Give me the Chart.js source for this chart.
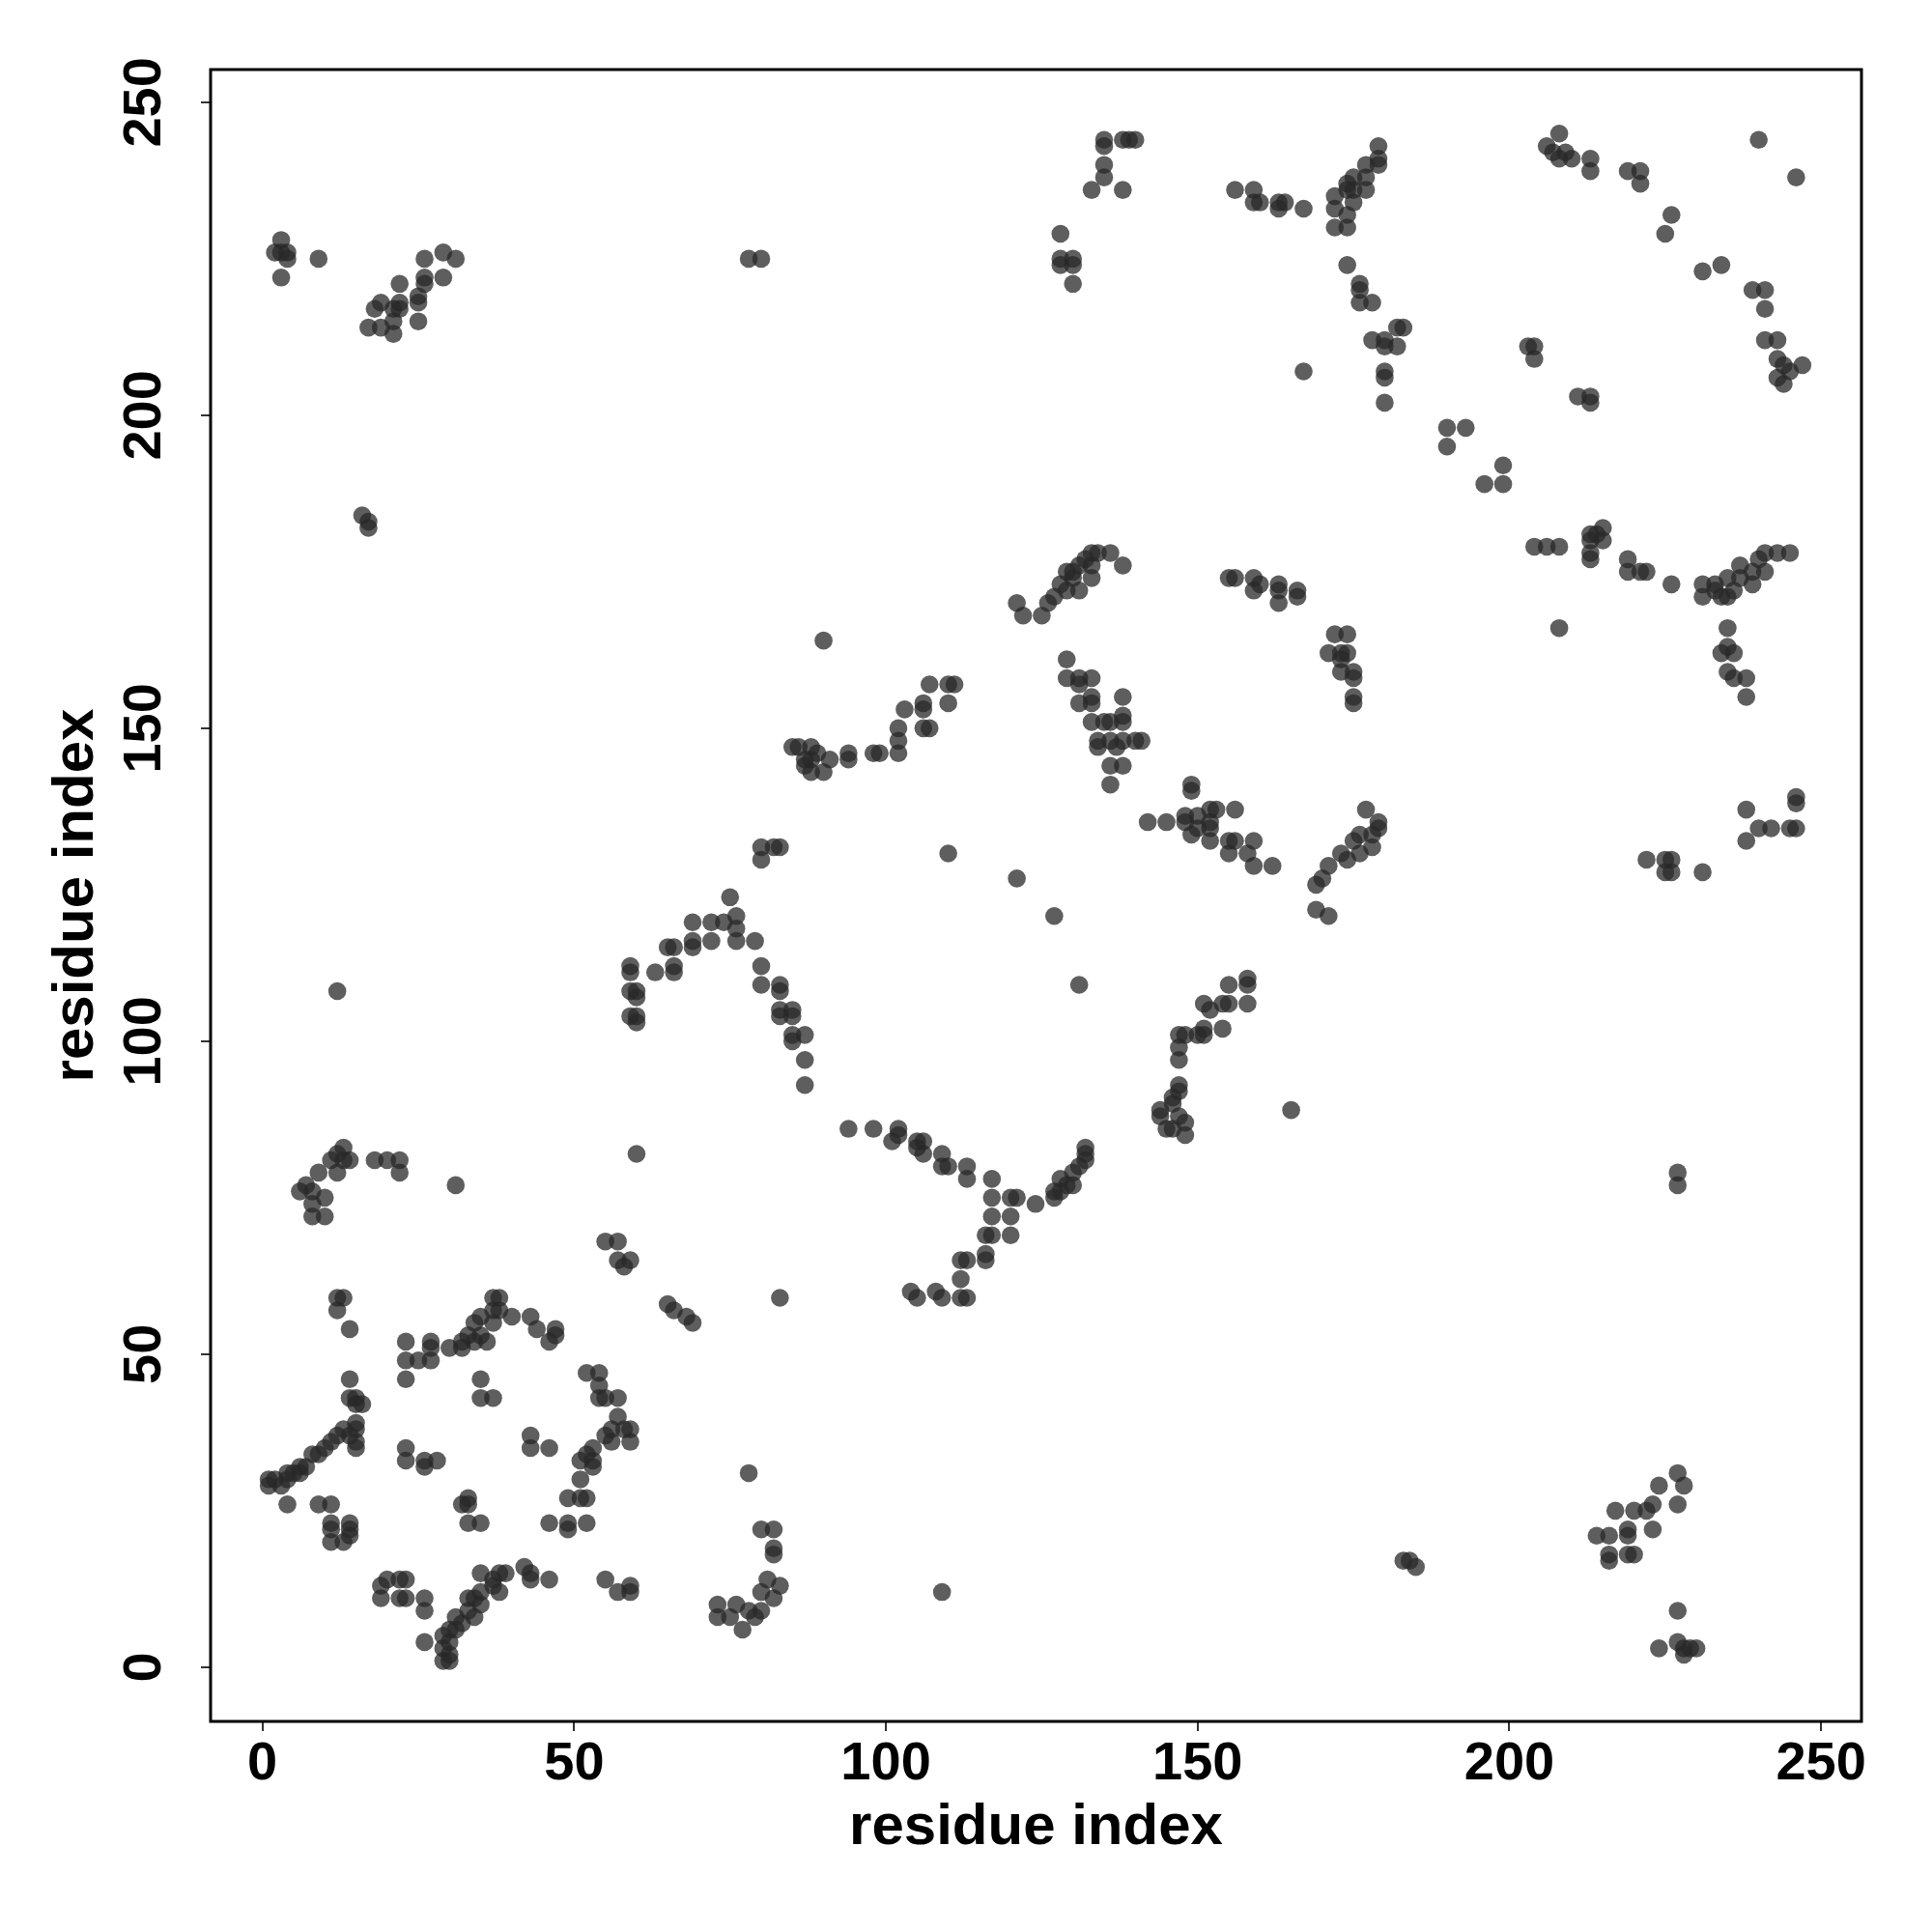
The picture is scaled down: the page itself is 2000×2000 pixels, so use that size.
<!DOCTYPE html>
<html>
<head>
<meta charset="utf-8">
<script src="https://cdn.jsdelivr.net/npm/chart.js@4.4.1/dist/chart.umd.min.js"></script>
<style>
  html, body { margin: 0; padding: 0; background: #fff; }
  #wrap { width: 2000px; height: 2000px; }
</style>
</head>
<body>
<div id="wrap"><canvas id="contactMap" width="2000" height="2000"></canvas></div>
<script>
// Contact map: residue i (x) vs residue j (y)
const resI = [
  3,2,3,4,4,9,3,
  26,29,31,26,26,29,22,25,25,22,19,18,21,22,25,17,19,21,21,78,80,
  135,135,138,139,140,135,135,133,138,128,128,128,130,130,130,
  156,159,159,160,163,163,164,167,167,
  179,179,179,177,177,177,175,175,175,174,174,172,172,172,174,174,174,176,176,176,178,
  182,183,178,180,182,180,180,180,180,
  208,206,207,209,208,210,213,213,219,221,221,226,225,240,246,231,234,
  239,241,241,241,243,243,244,247,243,244,245,204,204,203,211,213,213,190,193,190,199,196,199,
  16,17,17,
  121,122,125,126,127,128,129,129,130,131,132,133,133,133,134,136,138,131,130,
  155,156,159,160,163,163,163,166,166,159,90,
  107,110,111,110,103,106,106,106,107,102,102,102,98,99,94,94,91,85,86,88,89,87,88,90,87,88,
  129,129,131,131,133,131,133,133,138,133,135,136,138,138,134,136,138,141,137,134,140,136,138,136,
  149,149,142,145,148,148,149,150,150,152,153,152,152,152,156,155,155,156,159,158,159,162,
  110,121,80,82,83,80,
  204,206,208,213,213,213,213,215,215,214,219,219,221,222,226,
  231,231,233,234,235,235,236,237,237,239,240,241,241,243,245,239,233,
  208,235,235,234,236,235,238,236,238,
  172,174,171,173,174,173,173,175,175,175,175,
  177,179,179,178,175,176,173,171,170,169,178,176,174,169,171,
  222,225,226,225,226,231,238,240,242,245,246,246,246,238,
  75,69,72,74,76,76,65,66,69,69,72,76,79,
  59,59,63,66,66,59,60,60,59,60,60,12,60,
  13,12,14,11,13,9,12,7,6,8,10,8,8,10,18,20,22,22,31,
  55,57,57,59,58,12,13,12,37,38,65,66,68,69,
  127,131,80,80,83,83,83,85,83,85,85,87,85,87,87,
  94,98,102,101,102,105,106,105,106,109,110,109,113,113,117,117,117,120,121,120,120,124,
  127,127,128,129,130,130,131,132,132,132,128,
  116,117,116,116,112,113,112,104,105,108,109,112,113,83,
  155,158,158,158,151,152,154,155,151,154,147,148,150,151,
  147,147,147,147,146,146,144,144,145,147,148,148,146,165,227,227,
  14,23,23,25,23,27,27,27,
  30,32,33,34,35,37,32,34,35,37,38,40,36,43,44,47,46,47,
  14,14,15,16,15,15,15,14,15,15,13,12,11,10,9,8,7,6,5,4,3,1,1,2,4,6,
  4,9,11,11,11,14,14,11,13,14,23,23,26,28,26,
  35,35,37,43,43,46,33,32,33,33,35,
  52,54,54,54,55,57,57,58,59,59,56,55,53,52,51,51,53,53,56,
  49,51,52,46,49,49,52,78,
  19,20,22,23,19,22,23,26,26,26,
  35,37,38,39,35,37,38,34,35,33,33,34,31,32,30,31,29,30,29,30,29,30,
  42,43,43,46,55,57,59,59,
  73,73,75,76,77,78,79,81,83,80,82,80,
  80,82,82,82,109,
  183,184,185,
  227,228,224,227,223,222,220,217,223,219,219,216,214,216,216,219,220,227,224,227,228,228,230,229
];
const resJ = [
  228,226,226,226,225,225,222,
  225,226,225,222,221,222,221,219,218,218,218,217,217,217,215,214,214,215,213,225,225,
  244,243,244,244,244,240,238,236,236,229,225,224,225,224,221,
  236,236,234,234,234,233,234,233,207,
  243,241,240,240,238,236,238,236,234,237,236,235,233,230,232,230,224,221,220,218,218,
  214,214,212,212,211,211,207,206,202,
  245,243,242,242,241,241,241,239,239,239,237,232,229,244,238,223,224,
  220,220,217,212,212,209,208,208,206,205,207,211,209,211,203,203,202,198,198,195,192,189,189,
  184,183,182,
  170,168,168,170,171,173,172,175,174,172,177,176,174,178,178,178,176,176,175,
  174,174,174,173,173,172,170,172,171,172,164,
  157,157,157,154,153,154,153,150,150,150,148,146,146,146,146,145,145,147,147,147,146,144,143,143,145,145,
  161,158,158,157,158,154,155,154,155,151,151,151,152,151,148,148,148,148,147,147,148,144,144,141,
  141,140,135,135,136,135,133,136,134,137,137,135,134,132,137,132,130,132,132,130,128,128,
  130,126,131,131,131,129,
  179,179,179,181,180,178,177,182,180,181,177,175,175,175,173,
  173,171,173,171,174,171,172,176,174,173,177,175,178,178,178,175,172,
  166,166,163,162,162,159,158,158,155,
  165,165,162,162,162,161,159,159,158,155,154,
  137,135,134,131,132,130,130,128,126,125,133,133,129,121,120,
  129,129,129,127,127,127,137,134,134,134,134,139,138,132,
  123,119,119,119,120,118,115,115,116,115,116,116,116,
  112,111,111,112,111,108,108,107,104,104,103,108,82,
  83,82,81,81,81,79,79,77,76,76,75,74,72,72,81,81,81,79,77,
  68,68,65,65,64,59,59,57,59,59,58,57,56,55,
  120,109,112,109,109,108,105,105,104,104,101,101,100,97,93,
  86,86,86,84,85,84,84,83,82,82,80,80,80,78,78,75,72,75,75,72,69,74,
  76,75,78,77,79,77,80,83,81,82,76,
  69,69,66,65,65,65,62,60,59,60,59,59,59,59,
  109,110,109,106,106,105,106,106,102,102,101,101,101,101,
  99,97,93,92,91,90,89,88,86,88,87,85,86,89,79,77,
  54,52,49,49,46,52,51,49,
  51,52,53,55,56,57,51,52,53,55,57,56,52,56,54,54,52,53,
  46,43,43,42,42,39,38,37,36,35,38,37,36,35,34,34,32,32,31,31,29,30,29,30,30,31,
  26,26,26,23,22,23,22,20,20,21,35,33,33,33,32,
  46,43,43,37,35,35,27,26,26,23,23,
  47,47,45,43,43,43,40,38,38,36,38,37,35,34,33,30,32,33,36,
  27,27,27,23,23,22,23,31,
  13,14,14,14,11,11,11,11,9,4,
  15,14,15,15,12,13,12,11,10,11,9,8,8,7,6,6,5,4,3,2,1,1,
  16,15,14,14,14,12,13,12,
  10,8,8,10,6,9,8,14,13,12,11,9,
  22,22,19,18,12,
  17,17,16,
  31,29,29,26,26,25,25,25,22,22,21,21,21,18,17,18,18,9,3,4,3,2,3,3
];
const tickValues = [0, 50, 100, 150, 200, 250];

const fontFamily = '"Liberation Sans", Arial, Helvetica, sans-serif';

// Cadre noir autour de la zone de tracé
const framePlugin = {
  id: 'frame',
  afterDatasetsDraw(chart) {
    const { ctx, chartArea: a } = chart;
    ctx.save();
    ctx.strokeStyle = '#000';
    ctx.lineWidth = 3;
    ctx.strokeRect(a.left, a.top, a.right - a.left, a.bottom - a.top);
    ctx.restore();
  }
};

const n = Math.min(resI.length, resJ.length);
const points = [];
for (let k = 0; k < n; k++) points.push({ x: resI[k], y: resJ[k] });

new Chart(document.getElementById('contactMap'), {
  type: 'scatter',
  data: {
    datasets: [{
      data: points,
      backgroundColor: 'rgba(40,40,40,0.75)',
      borderWidth: 0,
      pointRadius: 9.3,
      pointHoverRadius: 9.3
    }]
  },
  options: {
    responsive: false,
    animation: false,
    layout: { padding: { top: 72, right: 73, left: 0, bottom: 0 } },
    plugins: { legend: { display: false }, tooltip: { enabled: false } },
    scales: {
      x: {
        type: 'linear',
        min: -8.32,
        max: 256.48,
        afterBuildTicks: s => { s.ticks = tickValues.map(v => ({ value: v })); },
        afterFit: s => { s.height = 218; },
        border: { display: false },
        grid: { drawOnChartArea: false, drawTicks: true, tickLength: 10, color: '#333', lineWidth: 2 },
        ticks: { color: '#000', maxRotation: 0, padding: 1, font: { family: fontFamily, size: 56, weight: 'bold' } },
        title: {
          display: true, text: 'residue index', color: '#000',
          font: { family: fontFamily, size: 60, weight: 'bold' },
          padding: { top: 0, bottom: 72 }
        }
      },
      y: {
        type: 'linear',
        min: -8.67,
        max: 255.23,
        afterBuildTicks: s => { s.ticks = tickValues.map(v => ({ value: v })); },
        afterFit: s => { s.width = 218; },
        border: { display: false },
        grid: { drawOnChartArea: false, drawTicks: true, tickLength: 10, color: '#333', lineWidth: 2 },
        ticks: {
          color: '#000', minRotation: 90, maxRotation: 90, crossAlign: 'center', padding: 11,
          font: { family: fontFamily, size: 56, weight: 'bold' }
        },
        title: {
          display: true, text: 'residue index', color: '#000',
          font: { family: fontFamily, size: 60, weight: 'bold' },
          padding: { top: 43, bottom: 0 }
        }
      }
    }
  },
  plugins: [framePlugin]
});
</script>
</body>
</html>
